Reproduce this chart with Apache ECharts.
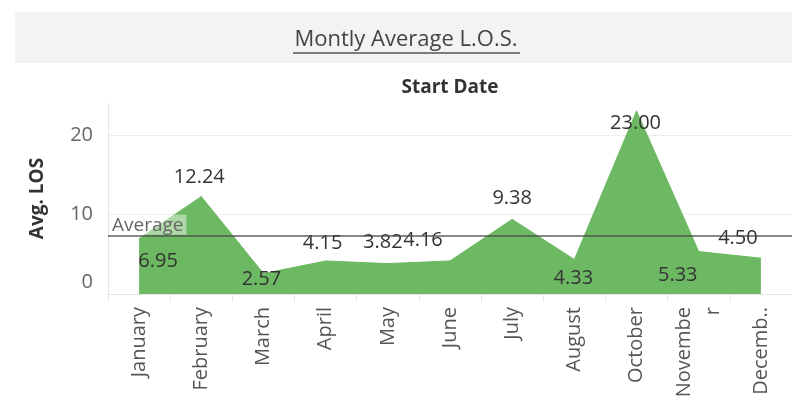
<!DOCTYPE html>
<html>
<head>
<meta charset="utf-8">
<script src="https://cdn.jsdelivr.net/npm/echarts@6/dist/echarts.min.js"></script>
<style>
  html, body { margin: 0; padding: 0; background: #fff; }
  #chart { width: 792px; height: 405px; }
</style>
</head>
<body>
<div id="chart"></div>
<script>
// data
var months = ['January', 'February', 'March', 'April', 'May', 'June', 'July', 'August', 'October', 'November', 'December'];
var avgLos = [6.95, 12.24, 2.57, 4.15, 3.82, 4.16, 9.38, 4.33, 23.00, 5.33, 4.50];
var yTicks = [0, 10, 20];

// where each value label sits relative to its point (tableau moves them around)
var labelOffsets = [[19, 23], [-2, -19], [-2, 6], [-3, -18], [-5, -21], [-27, -21], [0, -21], [-1, 19], [-1, 12], [-21, 24], [-23, -20]];

var chart = echarts.init(document.getElementById('chart'));

chart.setOption({
  animation: false,
  textStyle: { fontFamily: 'Open Sans' },
  graphic: [
    { type: 'rect', shape: { x: 15, y: 12, width: 777, height: 51 }, style: { fill: '#f3f3f3' }, z: -1 },
    {
      type: 'text', x: 406, y: 40, scaleX: 1.0,
      style: { text: 'Montly Average L.O.S.', font: '22px "Open Sans"', fill: '#444', align: 'center', verticalAlign: 'middle' }
    },
    { type: 'line', shape: { x1: 293, y1: 53, x2: 520, y2: 53 }, style: { stroke: '#555', lineWidth: 1.5 } },
    {
      type: 'text', x: 450, y: 88,
      style: { text: 'Start Date', font: 'bold 19px "Open Sans"', fill: '#333', align: 'center', verticalAlign: 'middle' }
    }
  ],
  grid: { left: 108, top: 103, width: 689, bottom: 111 },
  xAxis: {
    type: 'category',
    data: months,
    boundaryGap: true,
    axisLine: { lineStyle: { color: '#e6e6e6' } },
    axisTick: { show: true, length: 8, lineStyle: { color: '#e6e6e6' } },
    axisLabel: {
      rotate: 90,
      margin: 13,
      interval: 0,
      color: '#555',
      fontSize: 20,
      lineHeight: 29,
      formatter: function (v) {
        if (v === 'November') return 'Novembe\nr';
        if (v === 'December') return 'Decemb..';
        return v;
      }
    }
  },
  yAxis: {
    type: 'value',
    min: 0,
    max: 24,
    interval: 10,
    name: 'Avg. LOS',
    nameLocation: 'middle',
    nameGap: 61,
    nameRotate: 90,
    nameTextStyle: { fontWeight: 'bold', fontSize: 19, color: '#333' },
    axisLine: { show: true, lineStyle: { color: '#e6e6e6' } },
    axisTick: { show: false },
    splitLine: { lineStyle: { color: ['transparent', '#ececec', '#ececec', 'transparent'] } },
    axisLabel: {
      color: '#666',
      fontSize: 20,
      margin: 15,
      showMaxLabel: false,
      formatter: function (v) {
        if (yTicks.indexOf(v) < 0) return '';
        return v === 0 ? '{z|0}' : String(v);
      },
      rich: { z: { fontSize: 20, color: '#666', padding: [0, 0, 24, 0] } }
    }
  },
  series: [{
    type: 'line',
    data: avgLos.map(function (v, i) {
      return { value: v, label: { offset: labelOffsets[i] } };
    }),
    symbol: 'circle',
    symbolSize: 1,
    showSymbol: true,
    itemStyle: { color: '#6db862' },
    lineStyle: { width: 1, color: '#6db862' },
    areaStyle: { color: '#6db862', opacity: 1 },
    label: {
      show: true,
      position: 'inside',
      color: '#333',
      fontSize: 20,
      formatter: function (p) { return p.value.toFixed(2); }
    },
    markLine: {
      silent: true,
      symbol: 'none',
      data: [{ type: 'average' }],
      lineStyle: { color: 'rgba(70,70,70,0.65)', width: 2, type: 'solid' },
      label: {
        position: 'insideStartTop',
        distance: [2, 1],
        formatter: 'Average',
        color: '#666',
        fontSize: 19,
        backgroundColor: 'rgba(255,255,255,0.45)',
        padding: [1, 3, 0, 2]
      }
    }
  }]
});
</script>
</body>
</html>
